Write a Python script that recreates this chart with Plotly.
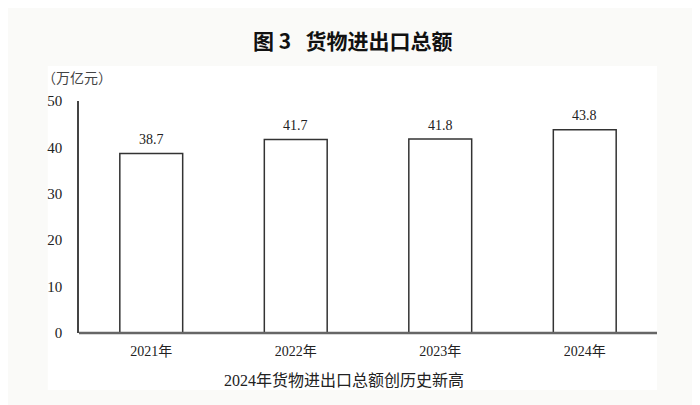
import plotly.graph_objects as go

categories = ["2021年", "2022年", "2023年", "2024年"]
values = [38.7, 41.7, 41.8, 43.8]
value_labels = ["38.7", "41.7", "41.8", "43.8"]
y_ticks = [0, 10, 20, 30, 40, 50]

title_text = "图 3\u00a0\u00a0\u00a0货物进出口总额"
unit_text = "（万亿元）"
caption_text = "2024年货物进出口总额创历史新高"

serif = "Liberation Serif, Times New Roman, Noto Sans CJK SC, serif"
cjk = "Noto Sans CJK SC, sans-serif"

fig = go.Figure()
fig.add_trace(go.Bar(
    x=categories,
    y=values,
    marker=dict(color="white", line=dict(color="#333", width=1.5)),
    width=0.435,
    hoverinfo="skip",
))

annotations = [
    dict(x=c, y=v, text=t, xref="x", yref="y", yshift=14,
         xanchor="center", yanchor="middle", showarrow=False,
         font=dict(family=serif, size=14, color="#222"))
    for c, v, t in zip(categories, values, value_labels)
]
annotations += [
    dict(text=title_text, xref="paper", yref="paper", x=0.474, y=1.263,
         xanchor="center", yanchor="middle", showarrow=False,
         font=dict(family=cjk, size=21, color="#111", weight="bold")),
    dict(text=unit_text, xref="paper", yref="paper", x=-0.068, y=1.105,
         xanchor="left", yanchor="middle", showarrow=False,
         font=dict(family=cjk, size=14, color="#444")),
    dict(text=caption_text, xref="paper", yref="paper", x=0.458, y=-0.203,
         xanchor="center", yanchor="middle", showarrow=False,
         font=dict(family=serif, size=16, color="#222")),
]

fig.update_layout(
    width=700, height=405,
    margin=dict(l=71, r=51, t=93, b=80),
    paper_bgcolor="#fafaf8",
    plot_bgcolor="white",
    showlegend=False,
    shapes=[
        dict(type="rect", xref="paper", yref="paper",
             x0=-0.054, x1=1.0, y0=-0.246, y1=1.151,
             fillcolor="white", line=dict(width=0), layer="below"),
        dict(type="line", xref="paper", yref="paper",
             x0=0, x1=1, y0=0, y1=0,
             line=dict(color="#666", width=2.5), layer="above"),
    ],
    annotations=annotations,
)

fig.update_xaxes(
    range=[-0.5, 3.5],
    showline=False,
    showgrid=False, ticks="", ticklabelstandoff=8,
    tickfont=dict(family=serif, size=14, color="#222"),
    fixedrange=True,
)
fig.update_yaxes(
    range=[0, 50], tickvals=y_ticks,
    showline=True, linecolor="#444", linewidth=1.5,
    showgrid=False, zeroline=False, ticks="", ticklabelstandoff=12,
    tickfont=dict(family=serif, size=15, color="#222"),
    fixedrange=True,
)

fig.write_html("out.html")
